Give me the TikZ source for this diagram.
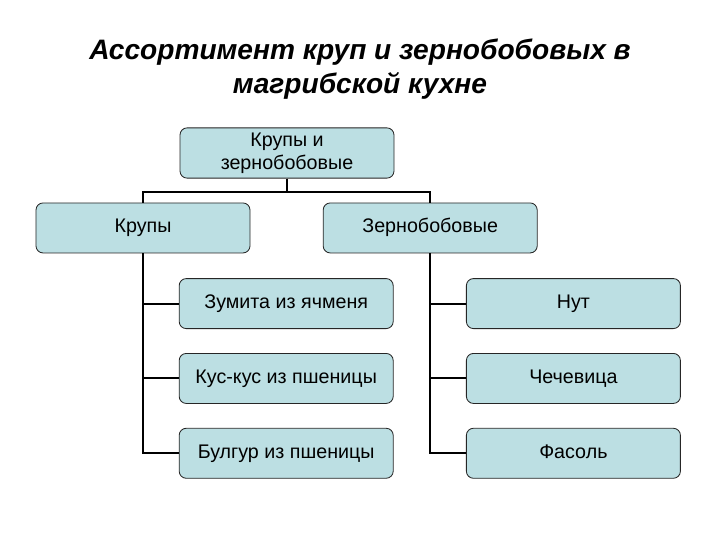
\documentclass[tikz,border=0pt]{standalone}
\usepackage{fontspec}
\setmainfont{Liberation Sans}
\usetikzlibrary{positioning}
\definecolor{boxfill}{RGB}{188,223,227}
\tikzset{
  block/.style = {rectangle, draw=black!85, fill=boxfill, line width=0.6pt, rounded corners=5pt,
    align=center, minimum width=5.35cm, minimum height=1.25cm, text height=1.6ex, text depth=0.3ex,
    font=\fontsize{14}{16.5}\selectfont},
  rootblock/.style = {block, text height=, text depth=},
  line/.style = {draw, line width=1.5pt},
  heading/.style = {align=center, font=\fontsize{20}{24}\selectfont\bfseries\itshape}
}

\begin{document}
\begin{tikzpicture}[node distance=0.6cm and 0.5cm]

    \useasboundingbox (0,0) rectangle (18,-13.5);

    % Title
    \node[heading] (title) at (9,-1.72) {Ассортимент круп и зернобобовых в\\магрибской кухне};

    % Tree
    \node[rootblock] (all) at (7.175,-3.825) {Крупы и\\зернобобовые};
    \node[block, below=0.6cm of all, xshift=-3.6cm] (grain) {Крупы};
    \node[block, below=0.6cm of all, xshift=3.58cm] (beans) {Зернобобовые};

    \node[block, below=0.62cm of grain, xshift=3.58cm] (g1) {Зумита из ячменя};
    \node[block, below=of g1] (g2) {Кус-кус из пшеницы};
    \node[block, below=of g2] (g3) {Булгур из пшеницы};

    \node[block, below=0.62cm of beans, xshift=3.58cm] (b1) {Нут};
    \node[block, below=of b1] (b2) {Чечевица};
    \node[block, below=of b2] (b3) {Фасоль};

    % Connectors
    \path [line] (all.south) -- ++(0,-0.33) -| (grain.north);
    \path [line] (all.south) -- ++(0,-0.33) -| (beans.north);
    \path [line] (grain.south) |- (g1.west);
    \path [line] (grain.south) |- (g2.west);
    \path [line] (grain.south) |- (g3.west);
    \path [line] (beans.south) |- (b1.west);
    \path [line] (beans.south) |- (b2.west);
    \path [line] (beans.south) |- (b3.west);

\end{tikzpicture}
\end{document}
